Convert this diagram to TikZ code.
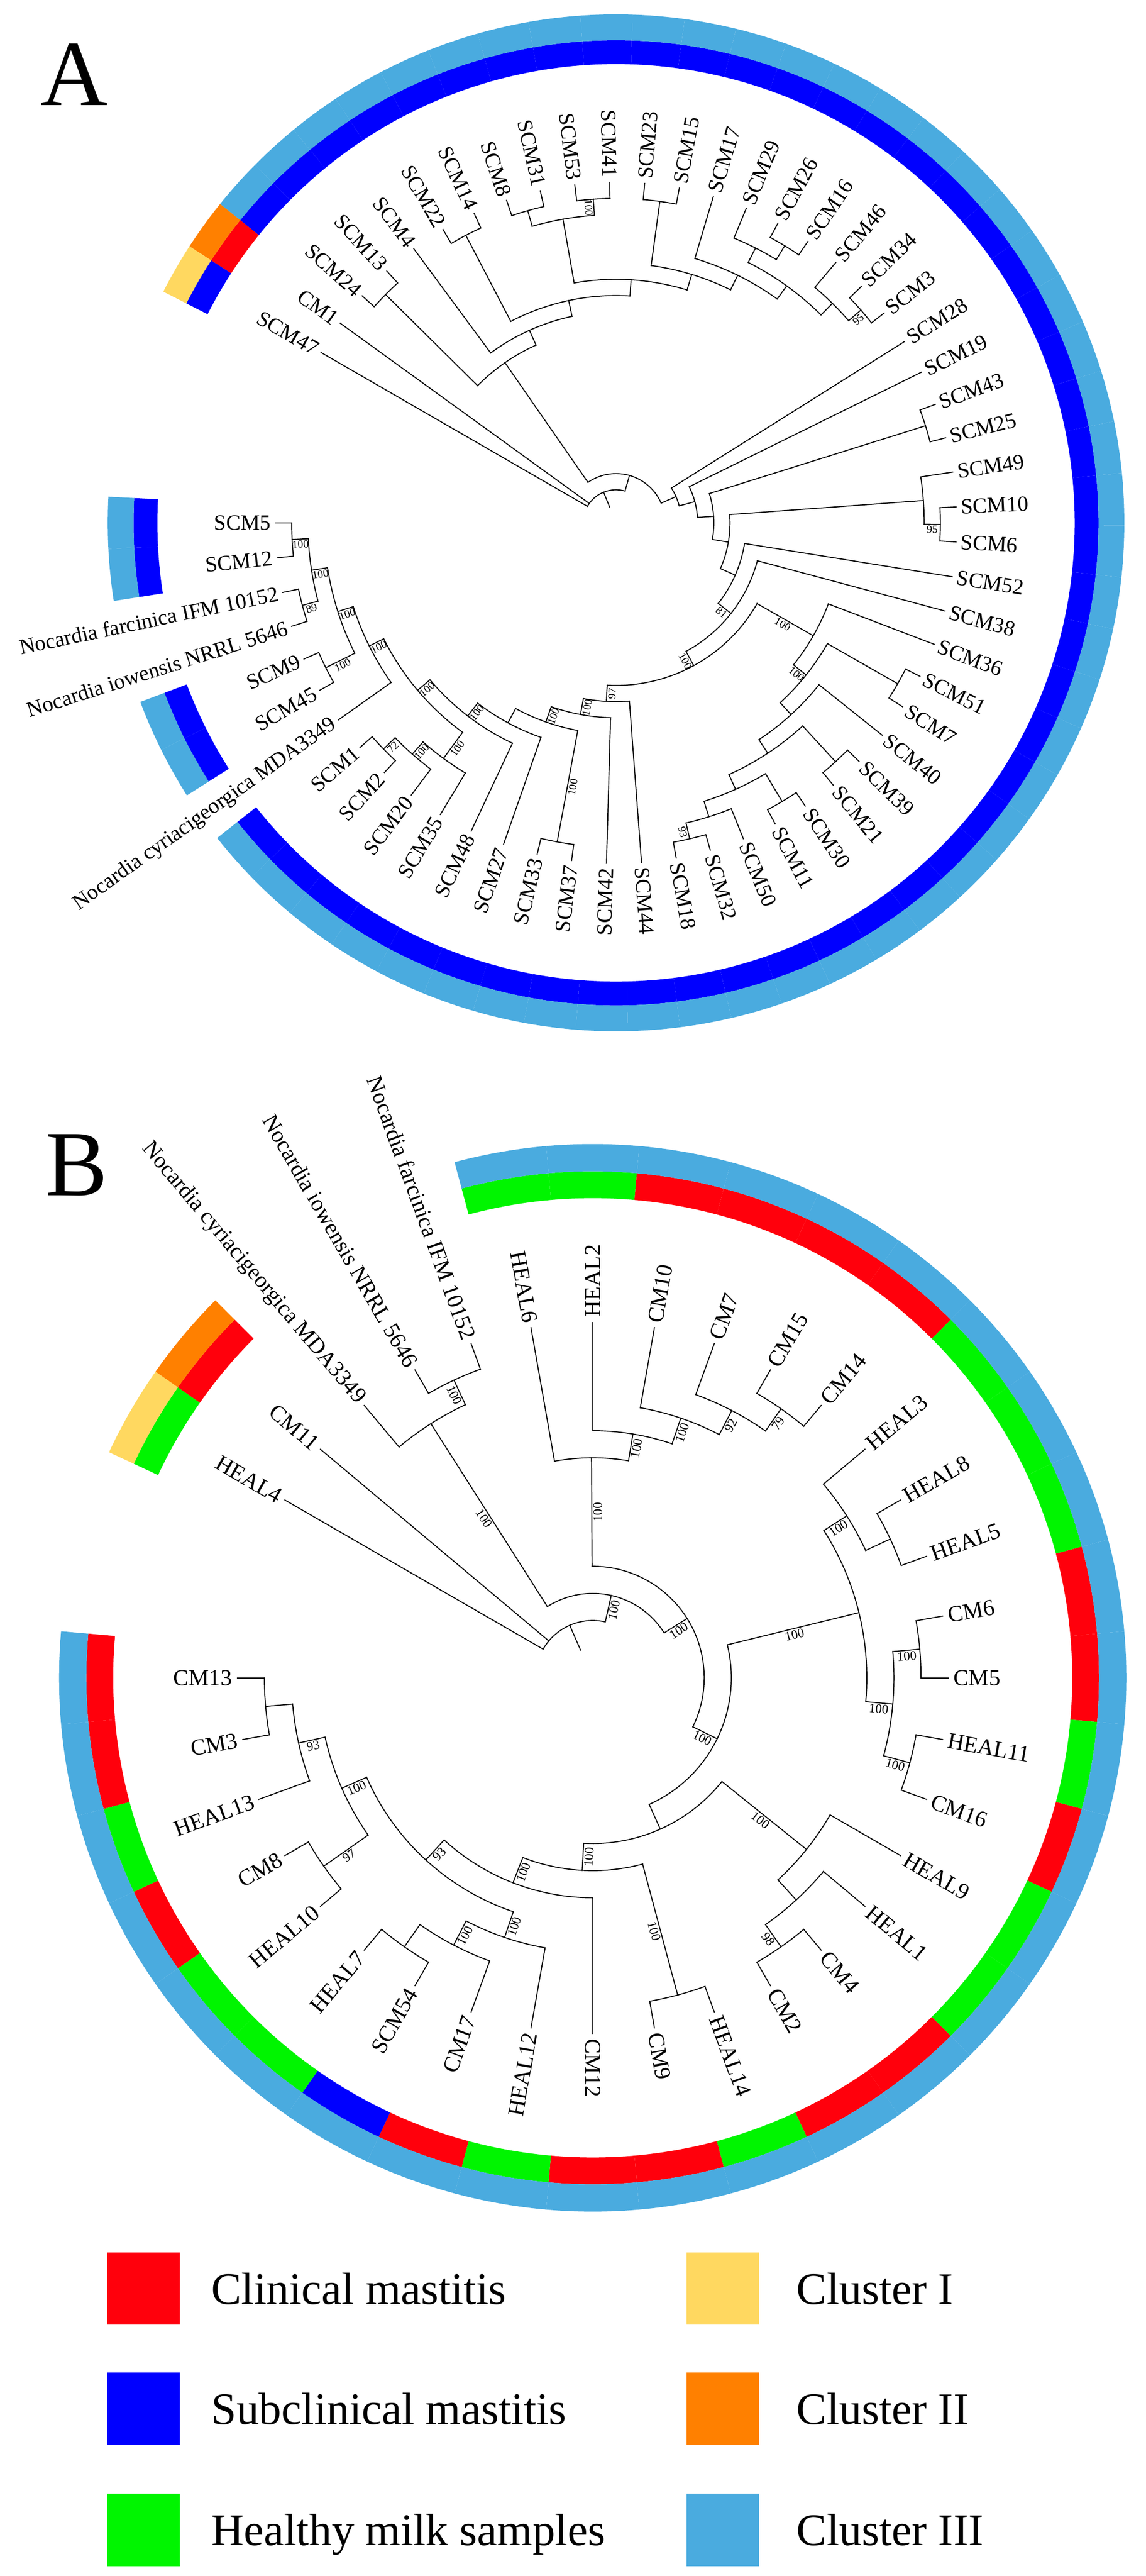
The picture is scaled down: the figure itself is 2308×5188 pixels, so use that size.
\documentclass[tikz,border=0pt]{standalone}
\usepackage{fontspec}
\setmainfont{Liberation Serif}
\definecolor{cred}{RGB}{255,0,12}
\definecolor{cblue}{RGB}{0,0,255}
\definecolor{cgreen}{RGB}{0,245,0}
\definecolor{clblue}{RGB}{74,171,223}
\definecolor{cyel}{RGB}{255,216,96}
\definecolor{corange}{RGB}{255,128,0}
\tikzset{
  br/.style={line width=0.5pt,line cap=rect,black},
  legbox/.style={minimum width=36.5pt,minimum height=36.5pt,inner sep=0pt,draw=none},
  legtext/.style={font=\fontsize{22.75}{26}\selectfont,inner sep=0pt,anchor=base west},
  biglet/.style={font=\fontsize{47}{50}\selectfont,inner sep=0pt}
}
% ring segment
\newcommand{\Seg}[5]{\fill[#5] (#1:#3) arc[start angle=#1,end angle=#2,radius=#3] -- (#2:#4) arc[start angle=#2,end angle=#1,radius=#4] -- cycle;}
% leaf: name, angle, parent height, text
\newcommand{\Leaf}[4]{%
  \pgfmathsetmacro\tRp{\rtip-\rstep*(#3)}%
  \coordinate (#1-t) at (#2:\rtip);%
  \coordinate (#1-p) at (#2:\tRp);%
  \draw[br] (#1-t) -- (#1-p);%
  \pgfmathtruncatemacro\rside{cos(#2)>-0.01}%
  \ifnum\rside=1\relax
    \node[leaflab,anchor=west,rotate=#2] (#1) at (#2:\rlab) {#4};%
  \else
    \node[leaflab,anchor=east,rotate=#2+180] (#1) at (#2:\rlab) {#4};%
  \fi}
% internal node: name, angle, height, parent height, arc from, arc to, support
\newcommand{\Inode}[7]{%
  \pgfmathsetmacro\tRn{\rtip-\rstep*(#3)}%
  \pgfmathsetmacro\tRp{\rtip-\rstep*(#4)}%
  \pgfmathsetmacro\tRm{(\tRn+\tRp)/2}%
  \coordinate (#1-n) at (#2:\tRn);%
  \coordinate (#1-p) at (#2:\tRp);%
  \coordinate (#1-s) at (#5:\tRn);%
  \draw[br] (#1-n) -- (#1-p);%
  \draw[br] (#1-s) arc[start angle=#5,end angle=#6,radius=\tRn];%
  \if\relax\detokenize{#7}\relax\else
    \pgfmathtruncatemacro\rside{cos(#2)>-0.01}%
    \ifnum\rside=1\relax
      \node[bslab,anchor=north,rotate=#2] (#1) at (#2:\tRm) {#7};%
    \else
      \node[bslab,anchor=north,rotate=#2+180] (#1) at (#2:\tRm) {#7};%
    \fi
  \fi}
\begin{document}
\begin{tikzpicture}[x=0.25pt,y=0.25pt]
\useasboundingbox (0,0) rectangle (2308,-5188);
\fill[white] (0,0) rectangle (2308,-5188);
\node[biglet] (letA) at (149,-150) {A};
\node[biglet] (letB) at (154.5,-2346.5) {B};
%================ TREE A =================
\begin{scope}[shift={(1241,-1053)}]
\def\rtip{686}\def\rstep{32.6}\def\rlab{695}
\tikzset{leaflab/.style={font=\fontsize{10.9}{12}\selectfont,inner sep=0pt},
         bslab/.style={font=\fontsize{5.5}{6}\selectfont,inner sep=0.6pt}}
\foreach \i in {0,1,4,5,7,8,...,56}{%
  \pgfmathsetmacro\sA{177.0536+5.8929*\i}%
  \pgfmathsetmacro\sB{182.9464+5.8929*\i}%
  \ifnum\i=55 \def\cIn{cred}\def\cOut{corange}%
  \else\ifnum\i=56 \def\cIn{cblue}\def\cOut{cyel}%
  \else \def\cIn{cblue}\def\cOut{clblue}\fi\fi
  \Seg{\sA}{\sB}{924}{972}{\cIn}
  \Seg{\sA}{\sB}{972}{1024}{\cOut}
}
\Leaf{A-SCM5}{180.00}{1}{SCM5}
\Leaf{A-SCM12}{185.89}{1}{SCM12}
\Leaf{A-Nfar}{191.79}{1}{Nocardia farcinica IFM 10152}
\Leaf{A-Niow}{197.68}{1}{Nocardia iowensis NRRL 5646}
\Leaf{A-SCM9}{203.57}{1}{SCM9}
\Leaf{A-SCM45}{209.46}{1}{SCM45}
\Leaf{A-Ncyr}{215.36}{4}{Nocardia cyriacigeorgica MDA3349}
\Leaf{A-SCM1}{221.25}{1}{SCM1}
\Leaf{A-SCM2}{227.14}{1}{SCM2}
\Leaf{A-SCM20}{233.04}{2}{SCM20}
\Leaf{A-SCM35}{238.93}{3}{SCM35}
\Leaf{A-SCM48}{244.82}{6}{SCM48}
\Leaf{A-SCM27}{250.71}{7}{SCM27}
\Leaf{A-SCM33}{256.61}{1}{SCM33}
\Leaf{A-SCM37}{262.50}{1}{SCM37}
\Leaf{A-SCM42}{268.39}{9}{SCM42}
\Leaf{A-SCM44}{274.29}{10}{SCM44}
\Leaf{A-SCM18}{280.18}{1}{SCM18}
\Leaf{A-SCM32}{286.07}{1}{SCM32}
\Leaf{A-SCM50}{291.96}{2}{SCM50}
\Leaf{A-SCM11}{297.86}{1}{SCM11}
\Leaf{A-SCM30}{303.75}{1}{SCM30}
\Leaf{A-SCM21}{309.64}{1}{SCM21}
\Leaf{A-SCM39}{315.54}{1}{SCM39}
\Leaf{A-SCM40}{321.43}{5}{SCM40}
\Leaf{A-SCM7}{327.32}{1}{SCM7}
\Leaf{A-SCM51}{333.21}{1}{SCM51}
\Leaf{A-SCM36}{339.11}{7}{SCM36}
\Leaf{A-SCM38}{345.00}{12}{SCM38}
\Leaf{A-SCM52}{350.89}{13}{SCM52}
\Leaf{A-SCM6}{356.79}{1}{SCM6}
\Leaf{A-SCM10}{362.68}{1}{SCM10}
\Leaf{A-SCM49}{368.57}{2}{SCM49}
\Leaf{A-SCM25}{374.46}{1}{SCM25}
\Leaf{A-SCM43}{380.36}{1}{SCM43}
\Leaf{A-SCM19}{386.25}{16}{SCM19}
\Leaf{A-SCM28}{392.14}{17}{SCM28}
\Leaf{A-SCM3}{398.04}{1}{SCM3}
\Leaf{A-SCM34}{403.93}{1}{SCM34}
\Leaf{A-SCM46}{409.82}{2}{SCM46}
\Leaf{A-SCM16}{415.71}{1}{SCM16}
\Leaf{A-SCM26}{421.61}{1}{SCM26}
\Leaf{A-SCM29}{427.50}{2}{SCM29}
\Leaf{A-SCM17}{433.39}{4}{SCM17}
\Leaf{A-SCM15}{439.29}{1}{SCM15}
\Leaf{A-SCM23}{445.18}{1}{SCM23}
\Leaf{A-SCM41}{451.07}{1}{SCM41}
\Leaf{A-SCM53}{456.96}{1}{SCM53}
\Leaf{A-SCM31}{462.86}{1}{SCM31}
\Leaf{A-SCM8}{468.75}{1}{SCM8}
\Leaf{A-SCM14}{474.64}{1}{SCM14}
\Leaf{A-SCM22}{480.54}{1}{SCM22}
\Leaf{A-SCM4}{486.43}{8}{SCM4}
\Leaf{A-SCM13}{492.32}{1}{SCM13}
\Leaf{A-SCM24}{498.21}{1}{SCM24}
\Leaf{A-CM1}{504.11}{19}{CM1}
\Leaf{A-SCM47}{510.00}{19}{SCM47}
\Inode{A-a1}{182.95}{1}{2}{180.00}{185.89}{100}
\Inode{A-a2}{194.73}{1}{2}{191.79}{197.68}{89}
\Inode{A-a3}{188.84}{2}{3}{182.95}{194.73}{100}
\Inode{A-a4}{206.52}{1}{3}{203.57}{209.46}{100}
\Inode{A-a5}{197.68}{3}{4}{188.84}{206.52}{100}
\Inode{A-a6}{206.52}{4}{5}{197.68}{215.36}{100}
\Inode{A-a7}{224.20}{1}{2}{221.25}{227.14}{72}
\Inode{A-a8}{228.62}{2}{3}{224.20}{233.04}{100}
\Inode{A-a9}{233.77}{3}{5}{228.62}{238.93}{100}
\Inode{A-a10}{220.15}{5}{6}{206.52}{233.77}{100}
\Inode{A-a11}{232.48}{6}{7}{220.15}{244.82}{100}
\Inode{A-a12}{241.60}{7}{8}{232.48}{250.71}{}
\Inode{A-a13}{259.55}{1}{8}{256.61}{262.50}{100}
\Inode{A-a14}{250.58}{8}{9}{241.60}{259.55}{100}
\Inode{A-a15}{259.48}{9}{10}{250.58}{268.39}{100}
\Inode{A-a16}{266.89}{10}{11}{259.48}{274.29}{97}
\Inode{A-e1}{283.13}{1}{2}{280.18}{286.07}{93}
\Inode{A-e2}{287.54}{2}{3}{283.13}{291.96}{}
\Inode{A-e3}{300.80}{1}{3}{297.86}{303.75}{}
\Inode{A-e4}{294.17}{3}{4}{287.54}{300.80}{}
\Inode{A-e5}{312.59}{1}{4}{309.64}{315.54}{}
\Inode{A-e6}{303.38}{4}{5}{294.17}{312.59}{}
\Inode{A-e7}{312.40}{5}{6}{303.38}{321.43}{}
\Inode{A-e8}{330.27}{1}{6}{327.32}{333.21}{}
\Inode{A-e9}{321.34}{6}{7}{312.40}{330.27}{100}
\Inode{A-e10}{330.22}{7}{11}{321.34}{339.11}{100}
\Inode{A-d11}{298.56}{11}{12}{266.89}{330.22}{100}
\Inode{A-d12}{321.78}{12}{13}{298.56}{345.00}{81}
\Inode{A-d13}{336.33}{13}{14}{321.78}{350.89}{}
\Inode{A-b1}{359.73}{1}{2}{356.79}{362.68}{95}
\Inode{A-b2}{364.15}{2}{14}{359.73}{368.57}{}
\Inode{A-d14}{350.24}{14}{15}{336.33}{364.15}{}
\Inode{A-b3}{377.41}{1}{15}{374.46}{380.36}{}
\Inode{A-d15}{363.82}{15}{16}{350.24}{377.41}{}
\Inode{A-d16}{375.04}{16}{17}{363.82}{386.25}{}
\Inode{A-d17}{383.59}{17}{18}{375.04}{392.14}{}
\Inode{A-u1}{400.98}{1}{2}{398.04}{403.93}{95}
\Inode{A-u2}{405.40}{2}{3}{400.98}{409.82}{}
\Inode{A-u3}{418.66}{1}{2}{415.71}{421.61}{}
\Inode{A-u4}{423.08}{2}{3}{418.66}{427.50}{}
\Inode{A-u5}{414.24}{3}{4}{405.40}{423.08}{}
\Inode{A-u6}{423.82}{4}{5}{414.24}{433.39}{}
\Inode{A-u7}{442.23}{1}{5}{439.29}{445.18}{}
\Inode{A-u8}{433.03}{5}{6}{423.82}{442.23}{}
\Inode{A-u9}{454.02}{1}{2}{451.07}{456.96}{100}
\Inode{A-u10}{465.80}{1}{2}{462.86}{468.75}{}
\Inode{A-u11}{459.91}{2}{6}{454.02}{465.80}{}
\Inode{A-u12}{446.47}{6}{7}{433.03}{459.91}{}
\Inode{A-u13}{477.59}{1}{7}{474.64}{480.54}{}
\Inode{A-u14}{462.03}{7}{8}{446.47}{477.59}{}
\Inode{A-u15}{474.23}{8}{9}{462.03}{486.43}{}
\Inode{A-u16}{495.27}{1}{9}{492.32}{498.21}{}
\Inode{A-u17}{484.75}{9}{18}{474.23}{495.27}{}
\Inode{A-r18}{434.17}{18}{19}{383.59}{484.75}{}
\Inode{A-root}{472.09}{19}{20}{434.17}{510.00}{}
\end{scope}
%================ TREE B =================
\begin{scope}[shift={(1194,-3379)}]
\def\rtip{716}\def\rstep{54.6}\def\rlab{726}
\tikzset{leaflab/.style={font=\fontsize{11.5}{13}\selectfont,inner sep=0pt},
         bslab/.style={font=\fontsize{6.5}{7}\selectfont,inner sep=0.6pt}}
\foreach \a/\cIn/\cOut in {150/cgreen/cyel,140/cred/corange,100/cgreen/clblue,90/cgreen/clblue,80/cred/clblue,70/cred/clblue,60/cred/clblue,50/cred/clblue,40/cgreen/clblue,30/cgreen/clblue,20/cgreen/clblue,10/cred/clblue,0/cred/clblue,-10/cgreen/clblue,-20/cred/clblue,-30/cgreen/clblue,-40/cgreen/clblue,-50/cred/clblue,-60/cred/clblue,-70/cgreen/clblue,-80/cred/clblue,-90/cred/clblue,-100/cgreen/clblue,-110/cred/clblue,-120/cblue/clblue,-130/cgreen/clblue,-140/cgreen/clblue,-150/cred/clblue,-160/cgreen/clblue,-170/cred/clblue,-180/cred/clblue}{%
  \pgfmathsetmacro\sA{\a-5}%
  \pgfmathsetmacro\sB{\a+5}%
  \Seg{\sA}{\sB}{966}{1020}{\cIn}
  \Seg{\sA}{\sB}{1020}{1075}{\cOut}
}
\Leaf{B-HEAL4}{150}{11}{HEAL4}
\Leaf{B-CM11}{140}{11}{CM11}
\Leaf{B-Ncyr}{130}{2}{Nocardia cyriacigeorgica MDA3349}
\Leaf{B-Niow}{120}{1}{Nocardia iowensis NRRL 5646}
\Leaf{B-Nfar}{110}{1}{Nocardia farcinica IFM 10152}
\Leaf{B-HEAL6}{100}{5}{HEAL6}
\Leaf{B-HEAL2}{90}{4}{HEAL2}
\Leaf{B-CM10}{80}{3}{CM10}
\Leaf{B-CM7}{70}{2}{CM7}
\Leaf{B-CM15}{60}{1}{CM15}
\Leaf{B-CM14}{50}{1}{CM14}
\Leaf{B-HEAL3}{40}{2}{HEAL3}
\Leaf{B-HEAL8}{30}{1}{HEAL8}
\Leaf{B-HEAL5}{20}{1}{HEAL5}
\Leaf{B-CM6}{10}{1}{CM6}
\Leaf{B-CM5}{0}{1}{CM5}
\Leaf{B-HEAL11}{-10}{1}{HEAL11}
\Leaf{B-CM16}{-20}{1}{CM16}
\Leaf{B-HEAL9}{-30}{3}{HEAL9}
\Leaf{B-HEAL1}{-40}{2}{HEAL1}
\Leaf{B-CM4}{-50}{1}{CM4}
\Leaf{B-CM2}{-60}{1}{CM2}
\Leaf{B-HEAL14}{-70}{1}{HEAL14}
\Leaf{B-CM9}{-80}{1}{CM9}
\Leaf{B-CM12}{-90}{5}{CM12}
\Leaf{B-HEAL12}{-100}{3}{HEAL12}
\Leaf{B-CM17}{-110}{2}{CM17}
\Leaf{B-SCM54}{-120}{1}{SCM54}
\Leaf{B-HEAL7}{-130}{1}{HEAL7}
\Leaf{B-HEAL10}{-140}{1}{HEAL10}
\Leaf{B-CM8}{-150}{1}{CM8}
\Leaf{B-HEAL13}{-160}{2}{HEAL13}
\Leaf{B-CM3}{-170}{1}{CM3}
\Leaf{B-CM13}{-180}{1}{CM13}
\Inode{B-n1}{115}{1}{2}{110}{120}{100}
\Inode{B-n2}{122.5}{2}{10}{115}{130}{100}
\Inode{B-p5}{55}{1}{2}{50}{60}{79}
\Inode{B-p4}{62.5}{2}{3}{55}{70}{92}
\Inode{B-p3}{71.25}{3}{4}{62.5}{80}{100}
\Inode{B-p2}{80.625}{4}{5}{71.25}{90}{100}
\Inode{B-p1}{90.3125}{5}{9}{80.625}{100}{100}
\Inode{B-q1}{25}{1}{2}{20}{30}{}
\Inode{B-q2}{32.5}{2}{3}{25}{40}{100}
\Inode{B-q3}{5}{1}{2}{0}{10}{100}
\Inode{B-q4}{-15}{1}{2}{-20}{-10}{100}
\Inode{B-q5}{-5}{2}{3}{-15}{5}{100}
\Inode{B-q6}{13.75}{3}{8}{-5}{32.5}{100}
\Inode{B-s1}{-55}{1}{2}{-60}{-50}{98}
\Inode{B-s2}{-47.5}{2}{3}{-55}{-40}{}
\Inode{B-s3}{-38.75}{3}{7}{-47.5}{-30}{100}
\Inode{B-w1}{-75}{1}{6}{-80}{-70}{100}
\Inode{B-v1}{-125}{1}{2}{-130}{-120}{}
\Inode{B-v2}{-117.5}{2}{3}{-125}{-110}{100}
\Inode{B-v3}{-108.75}{3}{4}{-117.5}{-100}{100}
\Inode{B-v4}{-145}{1}{3}{-150}{-140}{97}
\Inode{B-v5}{-175}{1}{2}{-180}{-170}{}
\Inode{B-v6}{-167.5}{2}{3}{-175}{-160}{93}
\Inode{B-v7}{-156.25}{3}{4}{-167.5}{-145}{100}
\Inode{B-w4}{-132.5}{4}{5}{-156.25}{-108.75}{93}
\Inode{B-w5}{-111.25}{5}{6}{-132.5}{-90}{100}
\Inode{B-w6}{-93.125}{6}{7}{-111.25}{-75}{100}
\Inode{B-z7}{-65.94}{7}{8}{-93.125}{-38.75}{}
\Inode{B-z8}{-26.09}{8}{9}{-65.94}{13.75}{100}
\Inode{B-z9}{32.11}{9}{10}{-26.09}{90.3125}{100}
\Inode{B-z10}{77.31}{10}{11}{32.11}{122.5}{100}
\Inode{B-root}{113.65}{11}{12}{77.31}{150}{}
\end{scope}
%================ LEGEND =================
\node[legbox,fill=cred] (L-cm) at (289,-4609) {};
\node[legtext] (L-cm-t) at (425,-4640.5) {Clinical mastitis};
\node[legbox,fill=cblue] (L-scm) at (289,-4851) {};
\node[legtext] (L-scm-t) at (425,-4882.5) {Subclinical mastitis};
\node[legbox,fill=cgreen] (L-h) at (289,-5095) {};
\node[legtext] (L-h-t) at (425,-5126.5) {Healthy milk samples};
\node[legbox,fill=cyel] (L-c1) at (1456.5,-4609) {};
\node[legtext] (L-c1-t) at (1604,-4640.5) {Cluster I};
\node[legbox,fill=corange] (L-c2) at (1456.5,-4851) {};
\node[legtext] (L-c2-t) at (1604,-4882.5) {Cluster II};
\node[legbox,fill=clblue] (L-c3) at (1456.5,-5095) {};
\node[legtext] (L-c3-t) at (1604,-5126.5) {Cluster III};
\end{tikzpicture}
\end{document}
